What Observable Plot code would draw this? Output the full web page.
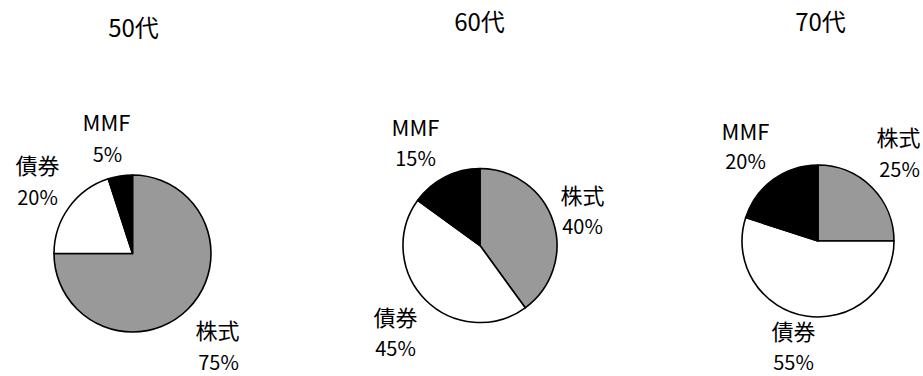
<!DOCTYPE html>
<html>
<head>
<meta charset="utf-8">
<script src="https://cdn.jsdelivr.net/npm/d3@7"></script>
<script src="https://cdn.jsdelivr.net/npm/@observablehq/plot@0.6"></script>
<style>
  html, body { margin: 0; padding: 0; background: #fff; }
  #chart svg { display: block; }
</style>
</head>
<body>
<div id="chart"></div>
<script>
// ---- data ----
const groups = ["50代", "60代", "70代"];
const assets = ["株式", "債券", "MMF"];
const share50 = [75, 20, 5];
const share60 = [40, 45, 15];
const share70 = [25, 55, 20];
const shares = [share50, share60, share70];

// ---- styles / layout ----
const assetColors = ["#999999", "#ffffff", "#000000"];
const W = 923, H = 376;
const pieLayout = [
  {cx: 132.5, cy: 253.5, r: 78.5},
  {cx: 480, cy: 245.5, r: 77},
  {cx: 818, cy: 241, r: 76}
];
const titlePos = [[133, 29], [479, 23], [820, 23]];
// label anchor [nameX, nameY, pctX, pctY] per group, per asset
const labelPos = [
  [[217, 331, 218, 363], [37, 166, 37, 198], [106, 123, 107, 155]],
  [[582, 196, 582, 227], [395, 318, 395, 349], [415, 128, 415, 159]],
  [[898, 138, 899, 170], [793, 332, 793, 363], [745, 132, 745, 162]]
];

// build tables
const slices = [];
const nameLabels = [];
const pctLabels = [];
groups.forEach((g, gi) => {
  const arcs = d3.pie().sort(null).value(d => d)(shares[gi]);
  arcs.forEach((a, ai) => {
    slices.push({group: g, asset: assets[ai], value: shares[gi][ai],
      start: a.startAngle, end: a.endAngle,
      cx: pieLayout[gi].cx, cy: pieLayout[gi].cy, r: pieLayout[gi].r});
    const p = labelPos[gi][ai];
    nameLabels.push({text: assets[ai], x: p[0], y: p[1]});
    pctLabels.push({text: shares[gi][ai] + "%", x: p[2], y: p[3]});
  });
});
const titles = groups.map((g, i) => ({text: g, x: titlePos[i][0], y: titlePos[i][1]}));

const font = "'Noto Sans CJK JP', 'Noto Sans', sans-serif";

// pie slices rendered through Plot's x/y scales
function pieMark(index, scales, values, dimensions, context) {
  const g = d3.create("svg:g");
  const arc = d3.arc();
  const color = d3.scaleOrdinal(assets, assetColors);
  for (const s of slices) {
    const cx = scales.x(s.cx), cy = scales.y(s.cy);
    const r = Math.abs(scales.x(s.cx + s.r) - cx);
    g.append("path")
      .attr("transform", `translate(${cx},${cy})`)
      .attr("d", arc({innerRadius: 0, outerRadius: r, startAngle: s.start, endAngle: s.end}))
      .attr("fill", color(s.asset))
      .attr("stroke", "#000")
      .attr("stroke-width", 1.6)
      .attr("stroke-linejoin", "round");
  }
  return g.node();
}

const chart = Plot.plot({
  width: W,
  height: H,
  margin: 0,
  style: {fontFamily: font, background: "#fff"},
  x: {type: "linear", domain: [0, W], range: [0, W], axis: null},
  y: {type: "linear", domain: [0, H], range: [0, H], axis: null},
  marks: [
    pieMark,
    Plot.text(nameLabels, {x: "x", y: "y", text: "text", fontSize: 22, fill: "#000",
      textAnchor: "middle", lineAnchor: "middle", fontFamily: font}),
    Plot.text(pctLabels, {x: "x", y: "y", text: "text", fontSize: 20, fill: "#000",
      textAnchor: "middle", lineAnchor: "middle", fontFamily: font}),
    Plot.text(titles, {x: "x", y: "y", text: "text", fontSize: 24, fill: "#000",
      textAnchor: "middle", lineAnchor: "middle", fontFamily: font})
  ]
});
document.getElementById("chart").append(chart);
</script>
</body>
</html>
